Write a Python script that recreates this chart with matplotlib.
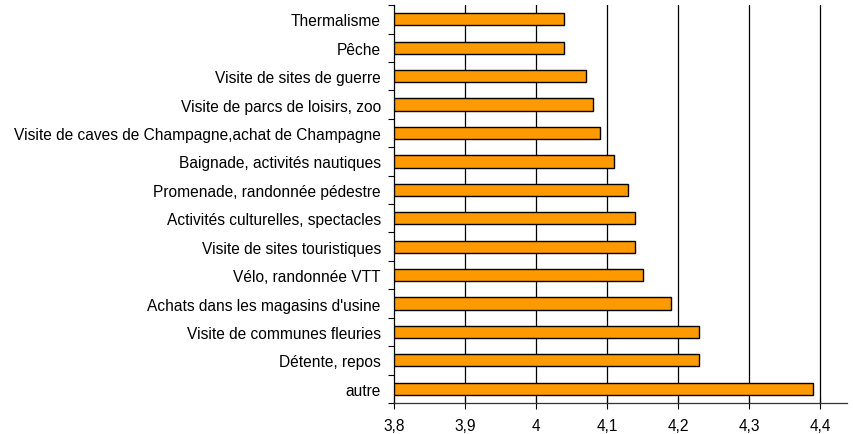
import numpy as np
import matplotlib.pyplot as plt
from matplotlib.ticker import FuncFormatter, FixedLocator

plt.rcParams['font.family'] = ['Liberation Sans', 'DejaVu Sans']

# activités, de haut en bas
activites = [
    "Thermalisme",
    "Pêche",
    "Visite de sites de guerre",
    "Visite de parcs de loisirs, zoo",
    "Visite de caves de Champagne,achat de Champagne",
    "Baignade, activités nautiques",
    "Promenade, randonnée pédestre",
    "Activités culturelles, spectacles",
    "Visite de sites touristiques",
    "Vélo, randonnée VTT",
    "Achats dans les magasins d'usine",
    "Visite de communes fleuries",
    "Détente, repos",
    "autre",
]
notes = [4.04, 4.04, 4.07, 4.08, 4.09, 4.11, 4.13, 4.14, 4.14, 4.15, 4.19, 4.23, 4.23, 4.39]
x_ticks = [3.8, 3.9, 4.0, 4.1, 4.2, 4.3, 4.4]

fig = plt.figure(figsize=(8.54, 4.35), dpi=100)
ax = fig.add_axes([0.4614, 0.0713, 0.9918 - 0.4614, 0.986 - 0.0713])

base = 3.8
y = np.arange(len(activites))
ax.barh(y, np.array(notes) - base, left=base, height=0.43,
        color="#FF9900", edgecolor="black", linewidth=1.0, zorder=3)

ax.set_xlim(3.8, 4.438)
ax.set_ylim(len(activites) - 0.5, -0.5)

ax.set_xticks(x_ticks)
ax.xaxis.set_major_formatter(FuncFormatter(lambda v, p: f"{v:g}".replace(".", ",")))
ax.tick_params(axis="x", direction="inout", length=8, width=0.8, labelsize=11.2, pad=7)

ax.set_yticks(y)
ax.set_yticklabels(activites)
ax.tick_params(axis="y", which="major", length=0, labelsize=11.2, pad=9.5)
ax.yaxis.set_minor_locator(FixedLocator(np.arange(-0.5, len(activites), 1.0)))
ax.tick_params(axis="y", which="minor", direction="out", length=4, width=0.8)

for v in x_ticks[1:]:
    ax.axvline(v, color="black", lw=0.9, zorder=1)

for s in ["top", "right"]:
    ax.spines[s].set_visible(False)
ax.spines["left"].set_linewidth(0.9)
ax.spines["bottom"].set_color("#333333")
ax.spines["bottom"].set_linewidth(0.9)

fig.savefig("out.png", dpi=100)
